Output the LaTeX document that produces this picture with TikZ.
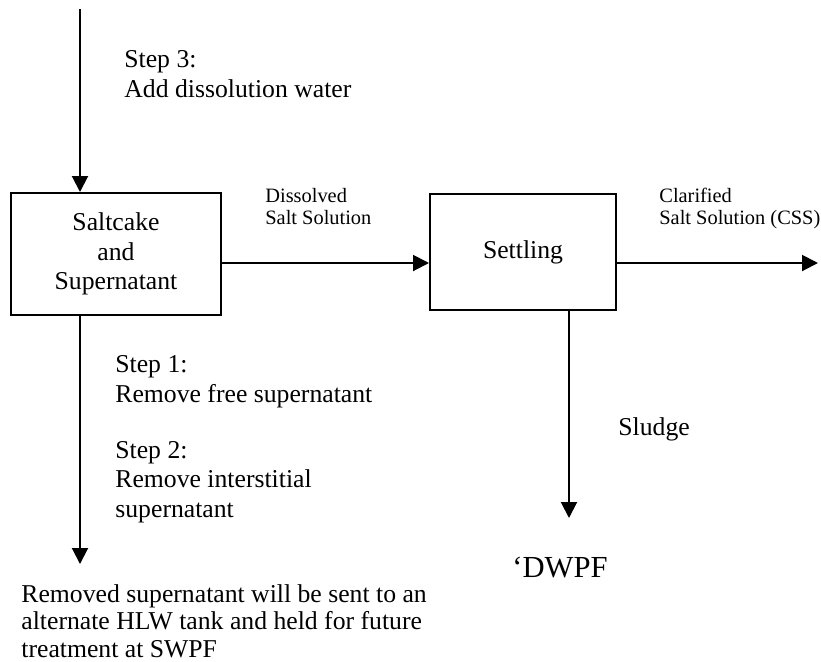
\documentclass[tikz,border=0pt]{standalone}
\usepackage{fontspec}
\setmainfont{Liberation Serif}
\usetikzlibrary{arrows.meta, positioning}

\begin{document}
\begin{tikzpicture}[
  x=0.5pt, y=-0.5pt,
  every node/.style={font=\fontsize{12.85}{14.75}\selectfont, inner sep=0pt},
  tank/.style={draw, line width=1pt, align=center},
  note/.style={align=left, anchor=base west},
  small/.style={note, font=\fontsize{10.2}{11}\selectfont},
  flow/.style={line width=1pt, -{Triangle[width=8pt, length=8pt]}}
]
\useasboundingbox (0,0) rectangle (821,661);

% Boxes
\node[tank, minimum width=105pt, minimum height=61pt] (salt) at (116,254) {Saltcake\\and\\Supernatant};
\node[tank, minimum width=93pt, minimum height=58pt] (settle) at (523,252) {Settling};

% Free ends
\coordinate (water) at (80,9);
\coordinate (flowy) at (0,263);
\coordinate (cssout) at (818,263);
\coordinate (swpfin) at (80,564);
\coordinate (dwpfin) at (569,518);

% Labels (anchored at the baseline of the last line)
\node[note] (step3) at (124,97) {Step 3:\\Add dissolution water};
\node[small] (dissolved) at (265,224) {Dissolved\\Salt Solution};
\node[small] (clarified) at (659,224) {Clarified\\Salt Solution (CSS)};
\node[note] (step1) at (115,402) {Step 1:\\Remove free supernatant};
\node[note] (step2) at (115,517) {Step 2:\\Remove interstitial\\supernatant};
\node[note] (sludge) at (618,435) {Sludge};
\node[note, font=\fontsize{15.3}{16}\selectfont] (dwpf) at (512,577) {`DWPF};
\node[note, font=\fontsize{12.85}{13.75}\selectfont] (removed) at (21,657)
  {Removed supernatant will be sent to an\\alternate HLW tank and held for future\\treatment at SWPF};

% Arrows
\draw[flow] (water) -- (water |- salt.north);
\draw[flow] (salt.east |- flowy) -- (settle.west |- flowy);
\draw[flow] (settle.east |- flowy) -- (cssout);
\draw[flow] (water |- salt.south) -- (swpfin);
\draw[flow] (dwpfin |- settle.south) -- (dwpfin);
\end{tikzpicture}
\end{document}
